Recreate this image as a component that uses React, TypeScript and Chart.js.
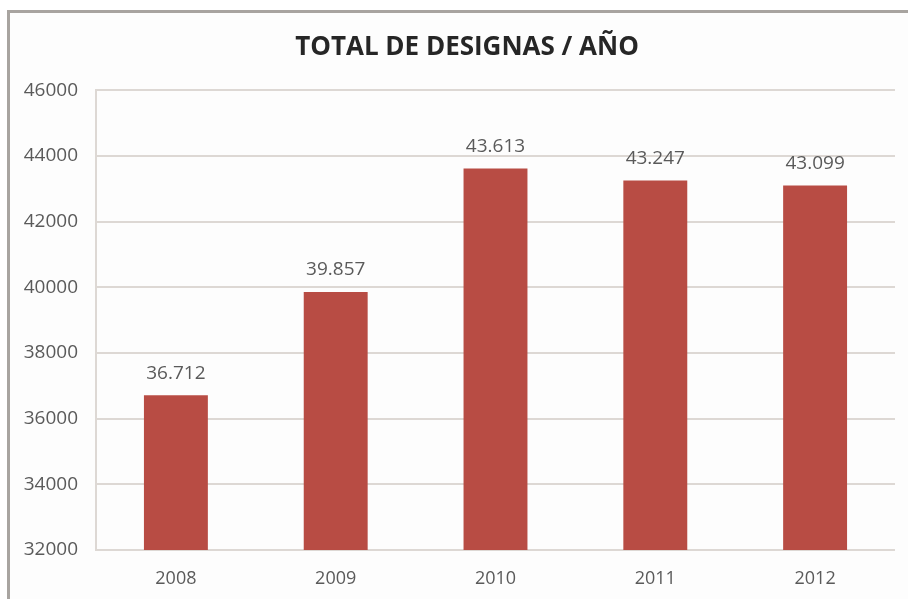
import React, { useEffect, useRef } from "react";
import { Chart, registerables } from "chart.js";

Chart.register(...registerables);

const categories = ["2008", "2009", "2010", "2011", "2012"];
const values = [36712, 39857, 43613, 43247, 43099];
const valueLabels = ["36.712", "39.857", "43.613", "43.247", "43.099"];
const yTicks = [32000, 34000, 36000, 38000, 40000, 42000, 44000, 46000];
const titleText = "TOTAL DE DESIGNAS / AÑO";

const FONT = "'Open Sans', 'Liberation Sans', sans-serif";

const valueLabelPlugin = {
  id: "valueLabels",
  afterDatasetsDraw(chart: any) {
    const ctx = chart.ctx;
    const meta = chart.getDatasetMeta(0);
    ctx.save();
    ctx.font = `19px ${FONT}`;
    ctx.fillStyle = "#5a5a5a";
    ctx.textAlign = "center";
    ctx.textBaseline = "middle";
    meta.data.forEach((bar: any, i: number) => {
      ctx.fillText(valueLabels[i], bar.x, bar.y - 22);
    });
    ctx.restore();
  },
};

const titlePlugin = {
  id: "customTitle",
  afterDraw(chart: any) {
    const ctx = chart.ctx;
    ctx.save();
    ctx.font = `bold 26px ${FONT}`;
    ctx.fillStyle = "#262626";
    ctx.textAlign = "center";
    ctx.textBaseline = "middle";
    ctx.fillText(titleText, 467, 48);
    ctx.restore();
  },
};

export default function App() {
  const ref = useRef<HTMLCanvasElement>(null);
  useEffect(() => {
    if (!ref.current) return;
    const chart = new Chart(ref.current, {
      type: "bar",
      data: {
        labels: categories,
        datasets: [
          {
            data: values,
            backgroundColor: "#b84c44",
            borderWidth: 0,
            barPercentage: 0.8,
            categoryPercentage: 0.5,
          },
        ],
      },
      options: {
        animation: false,
        responsive: false,
        maintainAspectRatio: false,
        layout: { padding: { left: 0, right: 13, top: 0, bottom: 0 } },
        plugins: {
          legend: { display: false },
          tooltip: { enabled: false },
          title: {
            display: true,
            text: titleText,
            color: "rgba(0,0,0,0)",
            font: { family: FONT, size: 26, weight: "bold" },
            padding: { top: 32, bottom: 27 },
          },
        },
        scales: {
          x: {
            grid: { display: false, drawTicks: false },
            border: { display: false },
            ticks: {
              color: "#5a5a5a",
              font: { family: FONT, size: 18 },
              padding: 18,
            },
            afterFit: (axis: any) => {
              axis.height = 49;
            },
          },
          y: {
            min: 32000,
            max: 46000,
            afterBuildTicks: (axis: any) => {
              axis.ticks = yTicks.map((v) => ({ value: v }));
            },
            grid: { color: "#ddd8d4", lineWidth: 2, drawTicks: false },
            border: { display: true, color: "#ddd8d4", width: 2 },
            ticks: {
              color: "#5a5a5a",
              font: { family: FONT, size: 19 },
              padding: 18,
              callback: (v: any) => String(v),
            },
            afterFit: (axis: any) => {
              axis.width = 96;
            },
          },
        },
      },
      plugins: [valueLabelPlugin, titlePlugin],
    });
    return () => chart.destroy();
  }, []);

  return (
    <div
      style={{
        position: "absolute",
        left: 0,
        top: 0,
        width: 908,
        height: 599,
        background: "#ffffff",
        overflow: "hidden",
      }}
    >
      <div
        style={{
          position: "absolute",
          left: 7,
          top: 10,
          width: 920,
          height: 610,
          borderLeft: "3px solid #a8a4a0",
          borderTop: "3px solid #a8a4a0",
          background: "#fdfdfd",
        }}
      />
      <canvas
        ref={ref}
        width={908}
        height={599}
        style={{ position: "absolute", left: 0, top: 0 }}
      />
    </div>
  );
}
